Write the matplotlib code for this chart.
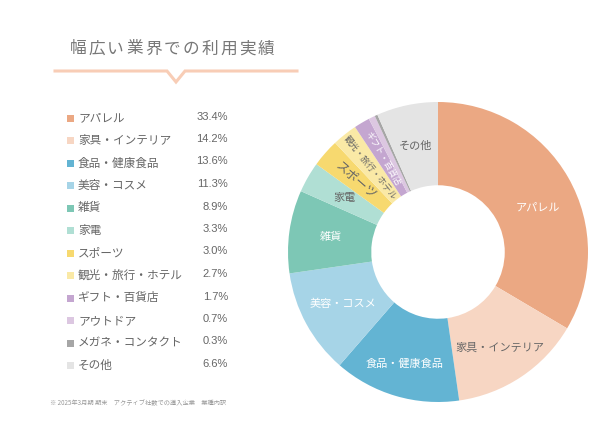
import matplotlib.pyplot as plt
import numpy as np

plt.rcParams['font.family'] = ['Noto Sans CJK JP', 'DejaVu Sans']

# 業種内訳データ
industries = ['アパレル', '家具・インテリア', '食品・健康食品', '美容・コスメ', '雑貨', '家電',
              'スポーツ', '観光・旅行・ホテル', 'ギフト・百貨店', 'アウトドア', 'メガネ・コンタクト', 'その他']
shares = [33.4, 14.2, 13.6, 11.3, 8.9, 3.3, 3.0, 2.7, 1.7, 0.7, 0.3, 6.6]
colors = ['#EBA883', '#F7D6C3', '#63B4D3', '#A6D4E7', '#7DC7B5', '#B0DFD4',
          '#F7D96F', '#FAE9A6', '#C4A6D0', '#DCC7E1', '#A6A6A6', '#E4E4E4']
# ドーナツ内のラベル (None は表示しない)
inner_labels = ['アパレル', '家具・インテリア', '食品・健康食品', '美容・コスメ', '雑貨', '家電',
                'スポーツ', '観光・旅行・ホテル', 'ギフト・百貨店', None, None, 'その他']
label_colors = ['white', '#666666', 'white', 'white', 'white', '#666666',
                '#666666', '#666666', 'white', None, None, '#666666']
title = '幅広い業界での利用実績'
note = '※ 2025年3月期 期末　アクティブ社数での導入企業　業種内訳'

W, H = 600, 430
fig = plt.figure(figsize=(W / 100, H / 100), dpi=100)

# 全体用の座標 (ピクセル, 上が0)
base = fig.add_axes([0, 0, 1, 1])
base.set_xlim(0, W)
base.set_ylim(H, 0)
base.axis('off')

# タイトル (字間を広げる)
for i, ch in enumerate(title):
    base.text(78 + i * 18.8, 49, ch, fontsize=12, color='#777777', ha='center', va='center')

# タイトル下の線と切り欠き
base.plot([55, 167, 176, 185, 297], [71, 71, 82, 71, 71], color='#F8CDB6', lw=2.2,
          solid_joinstyle='miter')

# 凡例
for i, (name, val, col) in enumerate(zip(industries, shares, colors)):
    y = 118 + i * 22.5
    base.add_patch(plt.Rectangle((66.5, y - 3.5), 7, 7, color=col, lw=0))
    base.text(78, y, name, fontsize=8.4, color='#666666', va='center', ha='left')
    base.text(228, y - 1.5, f'{val:.1f}%', fontsize=8, color='#666666', va='center', ha='right',
              family=['Liberation Sans', 'DejaVu Sans'])

base.text(50, 403, note, fontsize=4.5, color='#999999', va='center', ha='left')

# ドーナツ
cx, cy, R = 438, 252, 150
ax = fig.add_axes([(cx - R) / W, (H - cy - R) / H, 2 * R / W, 2 * R / H])
ring = 0.555
wedges, _ = ax.pie(shares, colors=colors, startangle=90, counterclock=False, radius=1,
                   wedgeprops=dict(width=ring, edgecolor='none'))
ax.set_xlim(-1, 1)
ax.set_ylim(-1, 1)
ax.set_aspect('equal')
ax.axis('off')

rotated = {'スポーツ', '観光・旅行・ホテル', 'ギフト・百貨店'}
small_font = {'観光・旅行・ホテル': 6.3, 'ギフト・百貨店': 6.3, 'スポーツ': 9}
# ラベル位置の微調整 (半径, 角度のずれ)
nudge = {'アパレル': (0.73, -6), '食品・健康食品': (0.78, 0), '家具・インテリア': (0.76, -1)}
for w, lab, lc in zip(wedges, inner_labels, label_colors):
    if lab is None:
        continue
    r, dang = nudge.get(lab, (1 - ring / 2, 0))
    mid = np.deg2rad((w.theta1 + w.theta2) / 2 + dang)
    x, y = r * np.cos(mid), r * np.sin(mid)
    rot = 0
    if lab in rotated:
        rot = np.rad2deg(mid) - 180
    ax.text(x, y, lab, ha='center', va='center', color=lc, rotation=rot,
            rotation_mode='anchor', fontsize=small_font.get(lab, 8))

fig.savefig('out.png', dpi=100, facecolor='white')
